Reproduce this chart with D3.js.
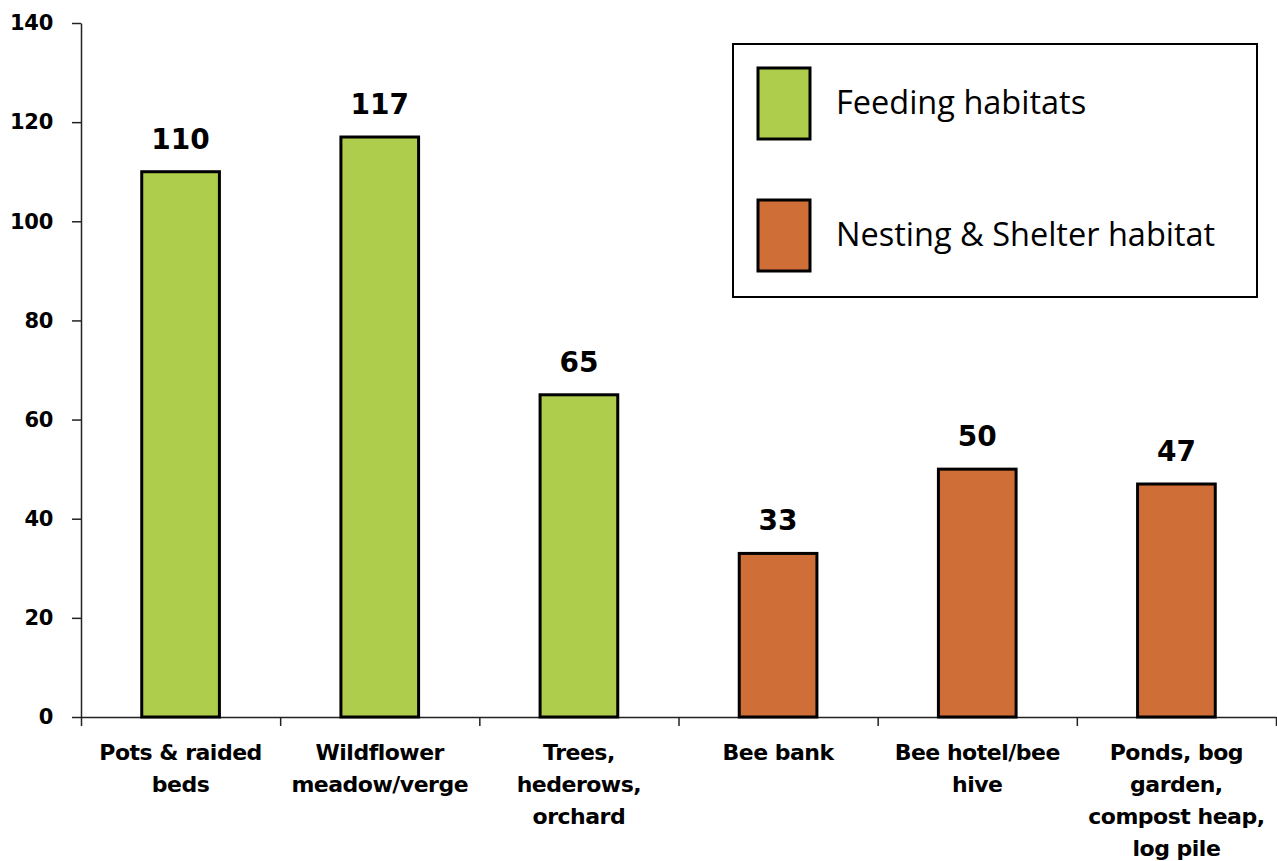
<!DOCTYPE html>
<html>
<head>
<meta charset="utf-8">
<script src="https://cdn.jsdelivr.net/npm/d3@7"></script>
<style>
  html, body { margin: 0; padding: 0; background: #fff; }
  svg { display: block; }
</style>
</head>
<body>
<svg id="chart" width="1277" height="861"></svg>
<script>
// ---- data ----
const categories = [
  ["Pots & raided", "beds"],
  ["Wildflower", "meadow/verge"],
  ["Trees,", "hederows,", "orchard"],
  ["Bee bank"],
  ["Bee hotel/bee", "hive"],
  ["Ponds, bog", "garden,", "compost heap,", "log pile"]
];
const values = [110, 117, 65, 33, 50, 47];
const groups = ["feeding", "feeding", "feeding", "nesting", "nesting", "nesting"];
const legendLabels = ["Feeding habitats", "Nesting & Shelter habitat"];
const legendKeys = ["feeding", "nesting"];
const yTicks = [0, 20, 40, 60, 80, 100, 120, 140];

(function () {
// ---- setup ----
const svg = d3.select("#chart");
const mLeft = 81, mRight = 1276, mTop = 23, mBottom = 717;
const boldFont = "'DejaVu Sans', Verdana, sans-serif";

const color = d3.scaleOrdinal().domain(legendKeys).range(["#AFCD4C", "#CF6E36"]);

const idx = d3.range(categories.length);
const x = d3.scaleBand().domain(idx).range([mLeft, mRight]).paddingInner(0.61).paddingOuter(0.305);
const xb = d3.scaleLinear().domain([0, categories.length]).range([mLeft, mRight]);
const y = d3.scaleLinear().domain([0, 140]).range([mBottom, mTop]);

// y axis
const yAxis = svg.append("g")
  .attr("transform", `translate(${mLeft},0)`)
  .call(d3.axisLeft(y).tickValues(yTicks).tickSize(9).tickPadding(19).tickSizeOuter(0));
yAxis.select(".domain").attr("stroke", "#222").attr("stroke-width", 1.5);
yAxis.selectAll(".tick line").attr("stroke", "#222").attr("stroke-width", 1.5);
yAxis.selectAll(".tick text")
  .attr("font-family", boldFont).attr("font-weight", "bold")
  .attr("font-size", 21).attr("letter-spacing", "-0.3px").attr("fill", "#000");

// x axis (boundary ticks)
const xAxis = svg.append("g")
  .attr("transform", `translate(0,${mBottom})`)
  .call(d3.axisBottom(xb).tickValues(d3.range(categories.length + 1)).tickSize(9).tickFormat("").tickSizeOuter(0));
xAxis.select(".domain").attr("stroke", "#222").attr("stroke-width", 1.5);
xAxis.selectAll(".tick line").attr("stroke", "#222").attr("stroke-width", 1.5);

// bars
svg.append("g").selectAll("rect").data(idx).join("rect")
  .attr("x", i => x(i))
  .attr("y", i => y(values[i]))
  .attr("width", x.bandwidth())
  .attr("height", i => y(0) - y(values[i]))
  .attr("fill", i => color(groups[i]))
  .attr("stroke", "#000").attr("stroke-width", 3);

// value labels
svg.append("g").selectAll("text").data(idx).join("text")
  .attr("x", i => x(i) + x.bandwidth() / 2)
  .attr("y", i => y(values[i]) - 23)
  .attr("text-anchor", "middle")
  .attr("font-family", boldFont).attr("font-weight", "bold")
  .attr("font-size", 28).attr("fill", "#000")
  .text(i => values[i]);

// category labels
const cat = svg.append("g").selectAll("text").data(idx).join("text")
  .attr("text-anchor", "middle")
  .attr("font-family", boldFont).attr("font-weight", "bold")
  .attr("font-size", 22).attr("letter-spacing", "-0.5px").attr("fill", "#000");
cat.each(function(i) {
  const t = d3.select(this);
  categories[i].forEach((line, k) => {
    t.append("tspan")
      .attr("x", x(i) + x.bandwidth() / 2)
      .attr("y", mBottom + 43 + k * 32)
      .text(line);
  });
});

// legend
const lg = svg.append("g");
lg.append("rect").attr("x", 733).attr("y", 44).attr("width", 524).attr("height", 253)
  .attr("fill", "#fff").attr("stroke", "#000").attr("stroke-width", 2);
const items = lg.selectAll("g.item").data(legendKeys).join("g").attr("class", "item")
  .attr("transform", (d, i) => `translate(0,${i * 132})`);
items.append("rect").attr("x", 758).attr("y", 68).attr("width", 52).attr("height", 71)
  .attr("fill", d => color(d)).attr("stroke", "#000").attr("stroke-width", 3);
items.append("text").attr("x", 836).attr("y", 114)
  .attr("font-family", "'Open Sans', sans-serif").attr("font-size", 32.5).attr("fill", "#000")
  .text((d, i) => legendLabels[i]);
})();
</script>
</body>
</html>
